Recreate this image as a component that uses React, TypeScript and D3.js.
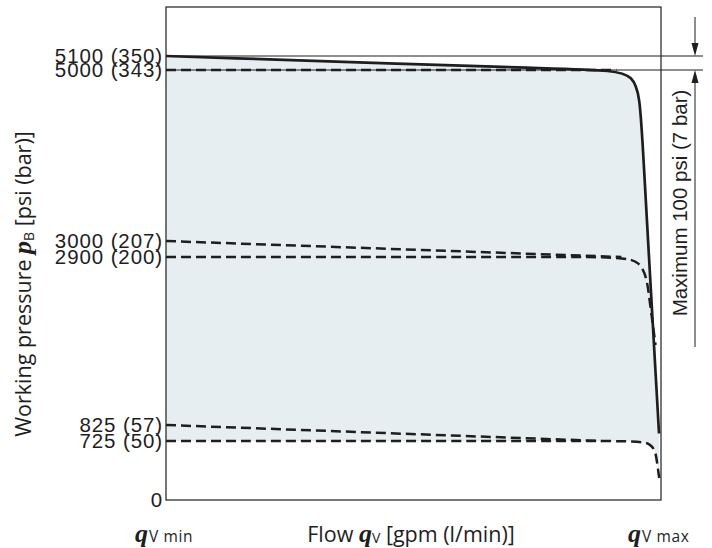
import * as d3 from 'd3'

// pressure ticks (psi) and their labels
const pressureTicks = [0, 725, 825, 2900, 3000, 5000, 5100]
const tickLabels = ['0', '725 (50)', '825 (57)', '2900 (200)', '3000 (207)', '5000 (343)', '5100 (350)']

// curves: [flow in % of qV max, pressure in psi]
const maxCurve: [number, number][] = [[0, 5100], [85.4, 5000], [95.5, 5000], [96.0, 4415], [99.6, 772]]
const line5000: [number, number][] = [[0, 5000], [91, 5000]]
const curve2900: [number, number][] = [[0, 2900], [88.5, 2900], [96.6, 2900], [97.6, 2406], [98.9, 1813]]
const line3000: [number, number][] = [[0, 3000], [92, 2900]]
const curve725: [number, number][] = [[0, 725], [92.5, 725], [98.6, 725], [99.2, 460], [99.65, 270]]
const line825: [number, number][] = [[0, 825], [88, 725]]

const W = 712, H = 548
const INK = '#1e1e1e'
const FILL = '#e6eef1'
const SANS = '"Liberation Sans", Arial, sans-serif'
const TITLE = '"Open Sans", "Liberation Sans", sans-serif'
const SERIF = '"Liberation Serif", "Times New Roman", serif'

export default function App() {
  const x = d3.scaleLinear().domain([0, 100]).range([166, 661])
  const y = d3.scaleLinear().domain(pressureTicks).range([500, 441, 425, 257, 241, 70, 56])

  const smooth = d3.line<[number, number]>().x(d => x(d[0])).y(d => y(d[1])).curve(d3.curveBasis)
  const straight = d3.line<[number, number]>().x(d => x(d[0])).y(d => y(d[1]))

  const top = smooth(maxCurve) || ''
  const bottom = (smooth([...curve725].reverse()) || '').replace(/^M/, 'L')
  const area = top + bottom + 'Z'

  const dash = { fill: 'none', stroke: INK, strokeWidth: 2.5, strokeDasharray: '10,5' }
  const ax = 695
  const yTop = y(5100), yBot = y(5000)

  return (
    <svg width={W} height={H} style={{ position: 'absolute', left: 0, top: 0, background: '#fff' }}>
      <path d={area} fill={FILL} />

      {/* max-pressure reference lines */}
      <line x1={166} x2={703} y1={yTop} y2={yTop} stroke={INK} strokeWidth={1} />
      <line x1={166} x2={703} y1={yBot} y2={yBot} stroke={INK} strokeWidth={1} />

      <path d={straight(line5000) || ''} {...dash} />
      <path d={straight(line3000) || ''} {...dash} />
      <path d={smooth(curve2900) || ''} {...dash} />
      <path d={straight(line825) || ''} {...dash} />
      <path d={smooth(curve725) || ''} {...dash} />
      <path d={top} fill="none" stroke={INK} strokeWidth={2.7} strokeLinejoin="round" />

      <rect x={166} y={7} width={495} height={y(0) - 7} fill="none" stroke={INK} strokeWidth={1.2} />

      {pressureTicks.map((t, i) => (
        <text key={t} x={163} y={y(t)} dy="0.36em" textAnchor="end" fontFamily={SANS} fontSize={20.5}
          letterSpacing={0.9} fill={INK}>
          {tickLabels[i]}
        </text>
      ))}

      {/* 100 psi annotation */}
      <line x1={ax} x2={ax} y1={17} y2={yTop - 11} stroke={INK} strokeWidth={1} />
      <path d={`M${ax},${yTop}L${ax - 3.5},${yTop - 13}L${ax + 3.5},${yTop - 13}Z`} fill={INK} />
      <line x1={ax} x2={ax} y1={yBot + 11} y2={347} stroke={INK} strokeWidth={1} />
      <path d={`M${ax},${yBot}L${ax - 3.5},${yBot + 13}L${ax + 3.5},${yBot + 13}Z`} fill={INK} />
      <text transform="translate(687,203) rotate(-90)" textAnchor="middle" fontFamily={SANS} fontSize={20.5} fill={INK}>
        Maximum 100 psi (7 bar)
      </text>

      {/* y title */}
      <text transform="translate(31,284) rotate(-90)" textAnchor="middle" fontFamily={TITLE} fontSize={21.5} fill={INK}>
        Working pressure{' '}
        <tspan fontFamily={SERIF} fontStyle="italic" fontWeight="bold" fontSize={26}>p</tspan>
        <tspan fontSize={14} dy={3}>B</tspan>
        <tspan dy={-3}> [psi (bar)]</tspan>
      </text>

      {/* x labels */}
      <text x={135} y={542} fontFamily={SERIF} fontStyle="italic" fontWeight="bold" fontSize={26} fill={INK}>
        q<tspan fontFamily={TITLE} fontStyle="normal" fontWeight="normal" fontSize={15.5} dx={1} letterSpacing={0.6}>V min</tspan>
      </text>
      <text x={411} y={542} textAnchor="middle" fontFamily={TITLE} fontSize={21.5} fill={INK}>
        Flow{' '}
        <tspan fontFamily={SERIF} fontStyle="italic" fontWeight="bold" fontSize={26}>q</tspan>
        <tspan fontSize={14} dy={1}>V</tspan>
        <tspan dy={-1}> [gpm (l/min)]</tspan>
      </text>
      <text x={628} y={542} fontFamily={SERIF} fontStyle="italic" fontWeight="bold" fontSize={26} fill={INK}>
        q<tspan fontFamily={TITLE} fontStyle="normal" fontWeight="normal" fontSize={15.5} dx={1} letterSpacing={0.6}>V max</tspan>
      </text>
    </svg>
  )
}
